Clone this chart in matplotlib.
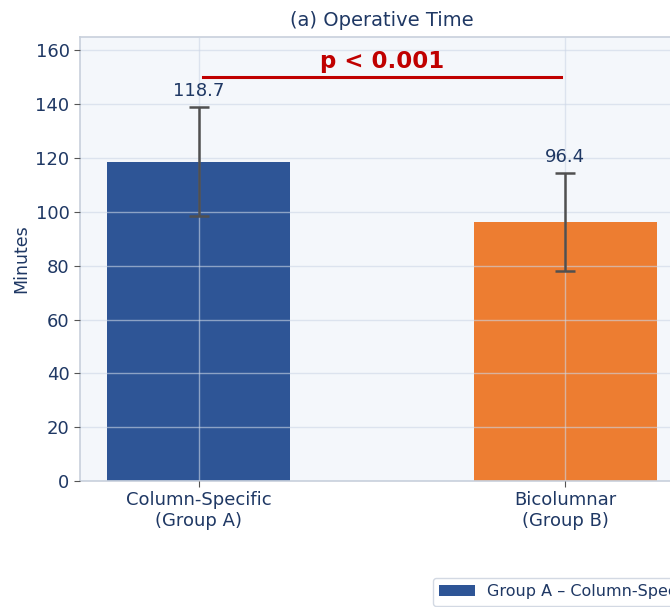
import matplotlib.pyplot as plt
import numpy as np

# data
groups = ["Column-Specific\n(Group A)", "Bicolumnar\n(Group B)"]
legend_labels = ["Group A \u2013 Column-Specific", "Group B \u2013 Bicolumnar"]
means = [118.7, 96.4]
sds = [20.4, 18.2]
p_text = "p < 0.001"

colors = ["#2e5596", "#ed7d31"]
navy = "#1f3864"

fig = plt.figure(figsize=(6.7, 6.07), dpi=100)
ax = fig.add_axes([80 / 670, 126 / 607, 604 / 670, 444 / 607])
ax.set_facecolor("#f4f7fb")

x = np.arange(len(groups))
bars = ax.bar(x, means, width=0.5, color=colors, label=legend_labels, zorder=1)
ax.errorbar(x, means, yerr=sds, fmt="none", ecolor="#505050", elinewidth=1.8,
            capsize=7.5, capthick=1.8, zorder=3)

# value labels above error bars
for xi, m, s in zip(x, means, sds):
    ax.text(xi, m + s + 2.5, f"{m:.1f}", ha="center", va="bottom",
            fontsize=13, color=navy)

# significance line
ax.plot([0.01, 0.99], [150, 150], color="#c00000", lw=2.2, zorder=3)
ax.text(0.5, 151.5, p_text, ha="center", va="bottom", fontsize=16.5,
        fontweight="bold", color="#c00000")

ax.set_xlim(-0.325, 1.325)
ax.set_ylim(0, 165)
ax.set_yticks(np.arange(0, 161, 20))
ax.set_xticks(x)
ax.set_xticklabels(groups, fontsize=13, color=navy)
ax.tick_params(axis="y", labelsize=13)
ax.tick_params(colors="#555555", length=4)
for lbl in ax.get_yticklabels() + ax.get_xticklabels():
    lbl.set_color(navy)

ax.set_ylabel("Minutes", fontsize=12.5, color=navy)
ax.set_title("(a) Operative Time", fontsize=14, color=navy, pad=8)

ax.set_axisbelow(False)
ax.grid(True, color="#ccd6e6", alpha=0.6, lw=1.0)
for sp in ax.spines.values():
    sp.set_color("#c8d0dc")
    sp.set_linewidth(1.2)

fig.legend(handles=bars.patches, labels=legend_labels, loc="upper left",
           bbox_to_anchor=(433 / 670, 1 - 578 / 607), ncol=2, fontsize=11.5,
           frameon=True, edgecolor="#c8d0dc", labelcolor=navy,
           handlelength=2.2, borderaxespad=0)

fig.savefig("out.png", dpi=100)
